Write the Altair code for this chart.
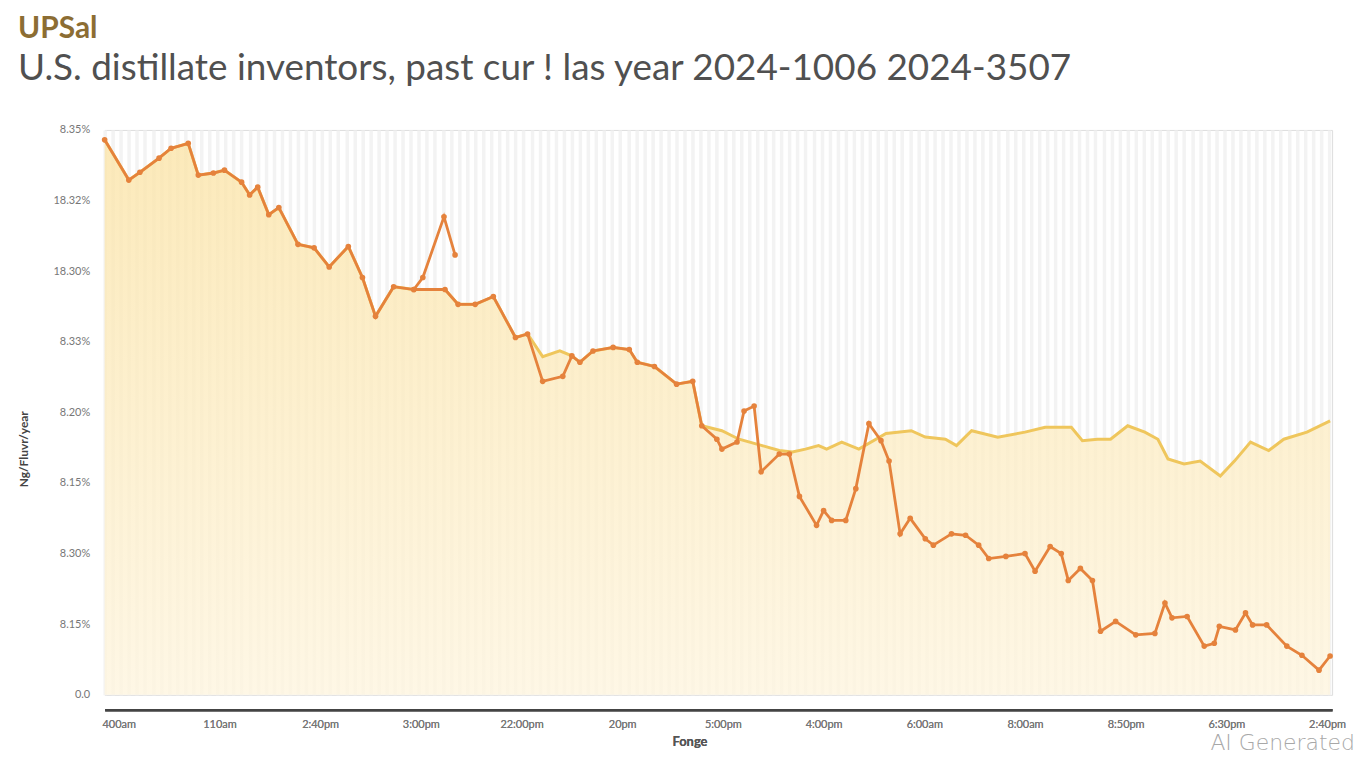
import json
import numpy as np
import pandas as pd
import altair as alt

# ---- tick labels ----
x_labels = ["400am", "110am", "2:40pm", "3:00pm", "22:00pm", "20pm", "5:00pm",
            "4:00pm", "6:00am", "8:00am", "8:50pm", "6:30pm", "2:40pm"]
y_labels = ["0.0", "8.15%", "8.30%", "8.15%", "8.20%", "8.33%", "18.30%", "18.32%", "8.35%"]

# ---- current series (orange, with markers) ----
cur_x = [-0.14, 0.10, 0.21, 0.40, 0.52, 0.69, 0.79, 0.94, 1.05, 1.22, 1.30, 1.38, 1.49, 1.59,
         1.78, 1.94, 2.09, 2.28, 2.42, 2.55, 2.73, 2.93, 3.02, 3.23, 3.34]
cur_y = [7.86, 7.29, 7.40, 7.60, 7.74, 7.81, 7.36, 7.39, 7.43, 7.26, 7.08, 7.19, 6.80, 6.90,
         6.38, 6.33, 6.06, 6.35, 5.91, 5.36, 5.78, 5.74, 5.91, 6.77, 6.23]

cur2_x = [2.93, 3.24, 3.37, 3.54, 3.72, 3.94, 4.06, 4.21, 4.41, 4.50, 4.58, 4.71, 4.91, 5.07,
          5.15, 5.32, 5.54, 5.70, 5.79, 5.94, 5.99, 6.14, 6.21, 6.31, 6.38, 6.56, 6.66, 6.76,
          6.93, 7.00, 7.08, 7.22, 7.32, 7.45, 7.57, 7.65, 7.76, 7.86, 8.01, 8.09, 8.27, 8.41,
          8.54, 8.64, 8.81, 9.00, 9.10, 9.25, 9.36, 9.43, 9.55, 9.67, 9.75, 9.90, 10.10, 10.29,
          10.39, 10.46, 10.61, 10.78, 10.88, 10.93, 11.09, 11.19, 11.26, 11.40, 11.60, 11.75,
          11.92, 12.03]
cur2_y = [5.74, 5.74, 5.53, 5.53, 5.64, 5.06, 5.11, 4.44, 4.51, 4.80, 4.71, 4.87, 4.92, 4.89,
          4.71, 4.65, 4.40, 4.44, 3.81, 3.62, 3.48, 3.58, 4.02, 4.09, 3.16, 3.41, 3.41, 2.81,
          2.40, 2.61, 2.47, 2.47, 2.92, 3.84, 3.60, 3.31, 2.28, 2.50, 2.21, 2.12, 2.28, 2.26,
          2.12, 1.93, 1.96, 2.00, 1.75, 2.10, 2.00, 1.62, 1.79, 1.62, 0.90, 1.04, 0.85, 0.87,
          1.30, 1.09, 1.11, 0.69, 0.73, 0.97, 0.92, 1.16, 0.99, 0.99, 0.69, 0.56, 0.35, 0.55]

# ---- last year series (yellow line + filled area) ----
last_x = [-0.14, 0.10, 0.21, 0.40, 0.52, 0.69, 0.79, 0.94, 1.05, 1.22, 1.30, 1.38, 1.49, 1.59,
          1.78, 1.94, 2.09, 2.28, 2.42, 2.55, 2.73, 2.93, 3.24, 3.37, 3.54, 3.72, 3.94, 4.06,
          4.21, 4.38, 4.50, 4.58, 4.71, 4.91, 5.07, 5.15, 5.32, 5.54, 5.70, 5.79, 5.99, 6.16,
          6.39, 6.56, 6.69, 6.82, 6.95, 7.03, 7.18, 7.35, 7.62, 7.87, 8.01, 8.21, 8.32, 8.47,
          8.73, 9.00, 9.20, 9.46, 9.57, 9.72, 9.85, 10.02, 10.19, 10.32, 10.42, 10.58, 10.74,
          10.94, 11.08, 11.24, 11.42, 11.57, 11.80, 12.03]
last_y = [7.86, 7.29, 7.40, 7.60, 7.74, 7.81, 7.36, 7.39, 7.43, 7.26, 7.08, 7.19, 6.80, 6.90,
          6.38, 6.33, 6.06, 6.35, 5.91, 5.36, 5.78, 5.74, 5.74, 5.53, 5.53, 5.64, 5.06, 5.11,
          4.79, 4.87, 4.80, 4.71, 4.87, 4.92, 4.89, 4.71, 4.65, 4.40, 4.44, 3.81, 3.74, 3.62,
          3.53, 3.46, 3.44, 3.48, 3.53, 3.48, 3.58, 3.48, 3.70, 3.74, 3.65, 3.62, 3.53, 3.74,
          3.65, 3.72, 3.79, 3.79, 3.60, 3.62, 3.62, 3.81, 3.72, 3.62, 3.34, 3.27, 3.31, 3.10,
          3.31, 3.58, 3.46, 3.62, 3.72, 3.88]

title_text = "UPSal"
subtitle_text = "U.S. distillate inventors, past cur ! las year 2024-1006 2024-3507"
x_title = "Fonge"
y_title = "Ng/Fluvr/year"
watermark = "AI Generated"

df_cur = pd.DataFrame({
    "x": cur_x + cur2_x,
    "y": cur_y + cur2_y,
    "seg": ["a"] * len(cur_x) + ["b"] * len(cur2_x),
})
df_last = pd.DataFrame({"x": last_x, "y": last_y})

ORANGE = "#E5823C"
YELLOW = "#EFC65C"

xlab_expr = json.dumps(x_labels) + "[datum.value]"
ylab_expr = json.dumps(y_labels) + "[datum.value]"

xscale = alt.Scale(domain=[-0.14, 12.05], nice=False, zero=False)
yscale = alt.Scale(domain=[0, 8], nice=False)

stripe_vals = [round(v, 3) for v in np.arange(-0.14, 12.05, 0.08)]

y_axis = alt.Axis(values=list(range(len(y_labels))), labelExpr=ylab_expr, title=y_title,
                  grid=False, ticks=False, tickSize=0, domain=False, labelPadding=15,
                  labelColor="#777777", labelFontSize=11, labelFont="Lato",
                  titleFont="Lato", titleFontSize=12, titleFontWeight="bold",
                  titleColor="#444444", titlePadding=22, titleY=320)

x_axis = alt.Axis(values=list(range(len(x_labels))), labelExpr=xlab_expr, title=x_title,
                  offset=15, grid=False, ticks=False, tickSize=0, labelPadding=9,
                  domainColor="#444444", domainWidth=2.5,
                  labelColor="#777777", labelFontSize=11, labelFont="Lato",
                  titleFont="Lato", titleFontSize=13, titleFontWeight="bold",
                  titleColor="#555555", titleX=587, titleY=26, titleBaseline="top")

area = alt.Chart(df_last).mark_area(
    color=alt.Gradient(
        gradient="linear",
        stops=[alt.GradientStop(color="#FBE4A8", offset=0),
               alt.GradientStop(color="#FEF5DF", offset=1)],
        x1=1, x2=1, y1=0, y2=1,
    ),
    opacity=0.8,
).encode(
    x=alt.X("x:Q", scale=xscale,
            axis=alt.Axis(orient="top", labels=False, ticks=False, domain=False, title=None,
                          grid=True, values=stripe_vals, gridColor="#F3F3F3", gridWidth=3.5)),
    y=alt.Y("y:Q", scale=yscale, axis=y_axis),
)

last_line = alt.Chart(df_last).mark_line(color=YELLOW, strokeWidth=3).encode(
    x=alt.X("x:Q", scale=xscale, axis=x_axis),
    y=alt.Y("y:Q", scale=yscale, axis=y_axis),
)

cur_line = alt.Chart(df_cur).mark_line(
    color=ORANGE, strokeWidth=2.8,
    point=alt.OverlayMarkDef(color=ORANGE, size=32, filled=True),
).encode(
    x=alt.X("x:Q", scale=xscale, axis=x_axis),
    y=alt.Y("y:Q", scale=yscale, axis=y_axis),
    detail="seg:N",
)

wm = alt.Chart(pd.DataFrame({"t": [watermark]})).mark_text(
    align="right", baseline="middle", fontSize=22, font="DejaVu Sans", fontWeight=300,
    color="#A8A8A8",
).encode(x=alt.value(1255), y=alt.value(615), text="t:N")

chart = alt.layer(area, last_line, cur_line, wm).resolve_axis(x="independent").properties(
    width=1232, height=567,
    padding={"left": 10, "top": 5, "right": 5, "bottom": 0},
    title=alt.TitleParams(
        text=title_text, subtitle=subtitle_text, anchor="start", frame="bounds",
        font="Lato", fontSize=30, fontWeight="bold", color="#8C6D33",
        subtitleFont="Lato", subtitleFontSize=37, subtitleColor="#505050",
        subtitlePadding=7, offset=37,
    ),
).configure_view(stroke=None).configure(background="white")

chart.save("out.html", embed_options={"renderer": "svg", "actions": False})
